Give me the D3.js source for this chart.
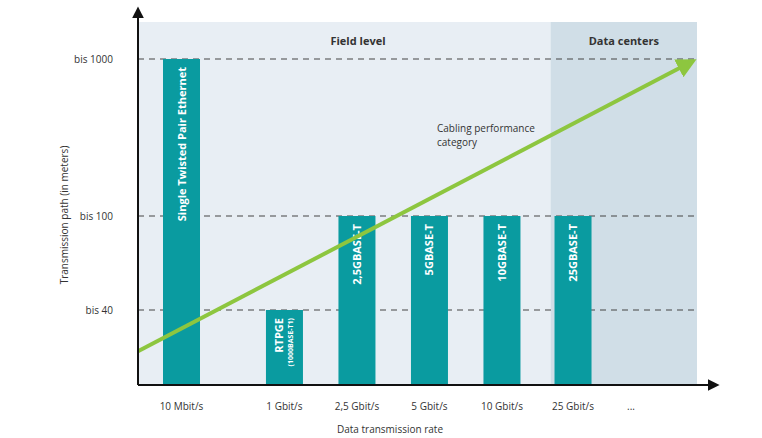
<!DOCTYPE html>
<html><head><meta charset="utf-8">
<script src="https://cdn.jsdelivr.net/npm/d3@7"></script>
<style>body{margin:0;background:#fff;font-family:"Open Sans",sans-serif;}</style>
</head><body><svg id="c" width="762" height="438"></svg>
<script>
// Data
const categories = ['10 Mbit/s', '1 Gbit/s', '2,5 Gbit/s', '5 Gbit/s', '10 Gbit/s', '25 Gbit/s', '...'];
const slots = [0, 1.42, 2.42, 3.42, 4.42, 5.4, 6.2];
const levels = ['', 'bis 40', 'bis 100', 'bis 1000'];
const barLevels = [3, 1, 2, 2, 2, 2, null];
const barLabels = ['Single Twisted Pair Ethernet', 'RTPGE', '2,5GBASE-T', '5GBASE-T', '10GBASE-T', '25GBASE-T', null];
const zones = [{name: 'Field level', from: -0.6, to: 5.09}, {name: 'Data centers', from: 5.09, to: 7.11}];

const svg = d3.select('#c');
const x = d3.scaleLinear().domain([-0.6, 7.11]).range([138, 697]);
const y = d3.scaleLinear().domain([0, 1, 2, 3]).range([385, 310, 216, 59]);
const bw = 37;

// Background zones
svg.selectAll('rect.zone').data(zones).enter().append('rect')
    .attr('x', d => x(d.from)).attr('y', 22)
    .attr('width', d => x(d.to) - x(d.from)).attr('height', 385 - 22)
    .attr('fill', (d, i) => i ? '#d0dee7' : '#e8eef4');
svg.selectAll('text.zone').data(zones).enter().append('text')
    .attr('x', d => d.name === 'Field level' ? 358 : x((d.from + d.to) / 2))
    .attr('y', 45).attr('text-anchor', 'middle')
    .attr('font-size', 11).attr('font-weight', 'bold').attr('fill', '#333')
    .text(d => d.name);

// Grid lines
svg.selectAll('line.grid').data([1, 2, 3]).enter().append('line')
    .attr('x1', 138).attr('x2', 697).attr('y1', d => y(d)).attr('y2', d => y(d))
    .attr('stroke', '#444').attr('stroke-dasharray', '6,5');

// Bars
const bars = categories.map((c, i) => ({c, i, v: barLevels[i], l: barLabels[i]})).filter(d => d.v != null);
svg.selectAll('rect.bar').data(bars).enter().append('rect')
    .attr('x', d => x(slots[d.i]) - bw / 2).attr('y', d => y(d.v))
    .attr('width', bw).attr('height', d => y(0) - y(d.v))
    .attr('fill', '#0a9ba0');
bars.forEach(d => {
    const cx = x(slots[d.i]);
    const t = svg.append('text')
        .attr('transform', `translate(${cx + 4},${y(d.v) + 8}) rotate(-90)`)
        .attr('text-anchor', 'end').attr('fill', '#fff')
        .attr('font-size', 11).attr('font-weight', 'bold').text(d.l);
    if (d.l === 'RTPGE') {
        t.attr('transform', `translate(${cx - 1},${y(d.v) + 8}) rotate(-90)`);
        svg.append('text')
            .attr('transform', `translate(${cx + 9},${y(d.v) + 8}) rotate(-90)`)
            .attr('text-anchor', 'end').attr('fill', '#fff')
            .attr('font-size', 7).attr('font-weight', 'bold').text('(1000BASE-T1)');
    }
});

// Green arrow
svg.append('defs').append('marker').attr('id', 'ga')
    .attr('viewBox', '0 0 10 10').attr('refX', 8).attr('refY', 5)
    .attr('markerWidth', 5).attr('markerHeight', 5).attr('orient', 'auto')
    .append('path').attr('d', 'M0,0L10,5L0,10z').attr('fill', '#8dc63f');
svg.append('line')
    .attr('x1', x(-0.6)).attr('y1', y(0.45)).attr('x2', x(7.11) - 4).attr('y2', y(3) + 2)
    .attr('stroke', '#8dc63f').attr('stroke-width', 4).attr('marker-end', 'url(#ga)');
svg.append('text').attr('x', 437).attr('y', 132).attr('font-size', 10).attr('fill', '#333').text('Cabling performance');
svg.append('text').attr('x', 437).attr('y', 146).attr('font-size', 10).attr('fill', '#333').text('category');

// Axes
svg.append('defs').append('marker').attr('id', 'ka')
    .attr('viewBox', '0 0 10 10').attr('refX', 2).attr('refY', 5)
    .attr('markerWidth', 6).attr('markerHeight', 6).attr('orient', 'auto')
    .append('path').attr('d', 'M0,0L10,5L0,10z').attr('fill', '#111');
svg.append('line').attr('x1', 138).attr('y1', 385).attr('x2', 138).attr('y2', 16)
    .attr('stroke', '#111').attr('stroke-width', 2).attr('marker-end', 'url(#ka)');
svg.append('line').attr('x1', 138).attr('y1', 385).attr('x2', 710).attr('y2', 385)
    .attr('stroke', '#111').attr('stroke-width', 2).attr('marker-end', 'url(#ka)');

svg.selectAll('text.ytick').data([1, 2, 3]).enter().append('text')
    .attr('x', 113).attr('y', d => y(d) + 4).attr('text-anchor', 'end')
    .attr('font-size', 10).attr('fill', '#333').text(d => levels[d]);
svg.selectAll('text.xtick').data(categories).enter().append('text')
    .attr('x', (d, i) => x(slots[i])).attr('y', 410).attr('text-anchor', 'middle')
    .attr('font-size', 10).attr('fill', '#333').text(d => d);

svg.append('text').attr('x', 390).attr('y', 433).attr('text-anchor', 'middle')
    .attr('font-size', 10).attr('fill', '#333').text('Data transmission rate');
svg.append('text').attr('transform', 'translate(68,215) rotate(-90)').attr('text-anchor', 'middle')
    .attr('font-size', 10).attr('fill', '#333').text('Transmission path (in meters)');
</script></body></html>
